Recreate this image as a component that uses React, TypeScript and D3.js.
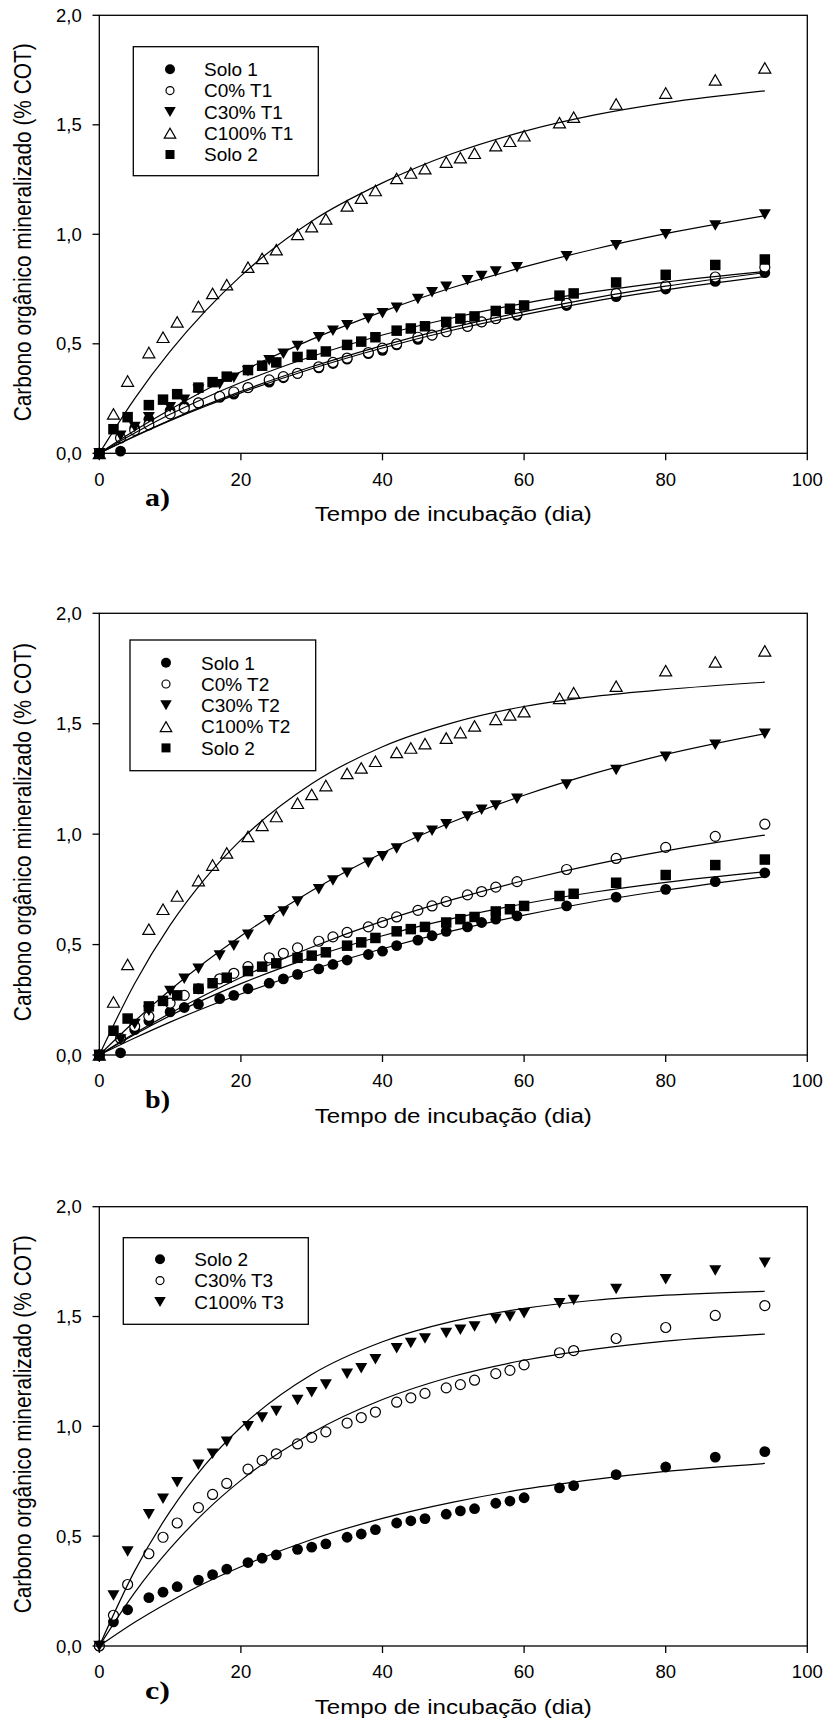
import React from 'react';
import * as d3 from 'd3';

// sampling days (two schedules used in the experiment)
const DAYS_A = [0, 2, 4, 7, 9, 11, 14, 16, 18, 21, 23, 25, 28, 30, 32, 35, 37, 39, 42, 44, 46, 49, 51, 53, 56, 58, 60, 65, 67, 73, 80, 87, 94];
const DAYS_B = [0, 3, 5, 7, 10, 12, 14, 17, 19, 21, 24, 26, 28, 31, 33, 35, 38, 40, 42, 45, 47, 49, 52, 54, 56, 59, 66, 73, 80, 87, 94];

// measured values (% COT)
const SOLO_1 = [0, 0.01, 0.115, 0.155, 0.195, 0.215, 0.23, 0.255, 0.27, 0.3, 0.325, 0.345, 0.365, 0.39, 0.41, 0.43, 0.455, 0.47, 0.495, 0.52, 0.54, 0.56, 0.58, 0.6, 0.615, 0.63, 0.675, 0.715, 0.75, 0.785, 0.825];
const SOLO_2 = [0, 0.11, 0.165, 0.22, 0.245, 0.27, 0.3, 0.325, 0.35, 0.38, 0.4, 0.415, 0.44, 0.45, 0.465, 0.495, 0.51, 0.53, 0.56, 0.57, 0.58, 0.6, 0.615, 0.625, 0.65, 0.66, 0.675, 0.72, 0.73, 0.78, 0.815, 0.86, 0.885];
const C0_T1 = [0, 0.07, 0.105, 0.13, 0.18, 0.205, 0.23, 0.26, 0.28, 0.3, 0.335, 0.35, 0.365, 0.395, 0.415, 0.435, 0.46, 0.48, 0.5, 0.53, 0.54, 0.555, 0.58, 0.6, 0.615, 0.635, 0.685, 0.73, 0.765, 0.805, 0.85];
const C30_T1 = [0, 0.08, 0.12, 0.165, 0.21, 0.245, 0.29, 0.315, 0.345, 0.375, 0.425, 0.455, 0.49, 0.53, 0.56, 0.585, 0.615, 0.64, 0.665, 0.705, 0.735, 0.76, 0.79, 0.81, 0.83, 0.85, 0.9, 0.95, 1.0, 1.04, 1.09];
const C100_T1 = [0, 0.18, 0.33, 0.46, 0.53, 0.6, 0.67, 0.73, 0.77, 0.85, 0.89, 0.93, 1.0, 1.035, 1.07, 1.13, 1.165, 1.2, 1.255, 1.28, 1.3, 1.33, 1.35, 1.37, 1.405, 1.425, 1.45, 1.51, 1.535, 1.595, 1.645, 1.705, 1.76];
const C0_T2 = [0, 0.075, 0.13, 0.175, 0.235, 0.27, 0.3, 0.345, 0.37, 0.4, 0.44, 0.46, 0.485, 0.515, 0.535, 0.555, 0.58, 0.6, 0.625, 0.655, 0.675, 0.695, 0.725, 0.74, 0.76, 0.785, 0.84, 0.89, 0.94, 0.99, 1.045];
const C30_T2 = [0, 0.07, 0.14, 0.2, 0.29, 0.345, 0.39, 0.45, 0.495, 0.545, 0.61, 0.65, 0.695, 0.75, 0.79, 0.825, 0.87, 0.9, 0.935, 0.985, 1.015, 1.045, 1.08, 1.11, 1.13, 1.16, 1.225, 1.29, 1.35, 1.405, 1.455];
const C100_T2 = [0, 0.24, 0.41, 0.57, 0.66, 0.72, 0.79, 0.86, 0.915, 0.99, 1.04, 1.08, 1.14, 1.18, 1.22, 1.275, 1.3, 1.33, 1.37, 1.39, 1.41, 1.435, 1.46, 1.49, 1.52, 1.54, 1.555, 1.615, 1.64, 1.67, 1.74, 1.78, 1.83];
const C30_T3 = [0, 0.14, 0.28, 0.42, 0.495, 0.56, 0.63, 0.69, 0.74, 0.805, 0.845, 0.875, 0.92, 0.95, 0.975, 1.015, 1.04, 1.065, 1.11, 1.13, 1.15, 1.175, 1.19, 1.21, 1.24, 1.255, 1.28, 1.335, 1.345, 1.4, 1.45, 1.505, 1.55];
const C100_T3 = [0, 0.23, 0.43, 0.6, 0.67, 0.745, 0.825, 0.875, 0.93, 1.0, 1.04, 1.07, 1.12, 1.155, 1.19, 1.24, 1.265, 1.305, 1.355, 1.38, 1.4, 1.425, 1.44, 1.455, 1.49, 1.5, 1.515, 1.56, 1.575, 1.625, 1.67, 1.71, 1.745];

// fitted curves
const FIT_DAYS = [0, 5, 10, 15, 20, 30, 40, 50, 60, 70, 80, 94];
const FIT_SOLO_1 = [0, 0.077, 0.149, 0.215, 0.276, 0.386, 0.481, 0.563, 0.633, 0.695, 0.746, 0.807];
const FIT_SOLO_2 = [0, 0.093, 0.178, 0.254, 0.323, 0.442, 0.54, 0.619, 0.685, 0.738, 0.782, 0.83];
const FIT_C0_T1 = [0, 0.079, 0.152, 0.22, 0.283, 0.395, 0.492, 0.576, 0.647, 0.71, 0.763, 0.825];
const FIT_C30_T1 = [0, 0.104, 0.2, 0.289, 0.372, 0.52, 0.647, 0.758, 0.851, 0.933, 1.003, 1.085];
const FIT_C100_T1 = [0, 0.25, 0.465, 0.65, 0.81, 1.06, 1.235, 1.37, 1.47, 1.545, 1.6, 1.655];
const FIT_C0_T2 = [0, 0.098, 0.189, 0.273, 0.351, 0.488, 0.606, 0.705, 0.79, 0.863, 0.924, 0.996];
const FIT_C30_T2 = [0, 0.153, 0.294, 0.422, 0.539, 0.744, 0.915, 1.057, 1.176, 1.276, 1.361, 1.455];
const FIT_C100_T2 = [0, 0.324, 0.588, 0.801, 0.974, 1.228, 1.396, 1.505, 1.578, 1.624, 1.655, 1.688];
const FIT_SOLO_2C = [0, 0.108, 0.203, 0.288, 0.361, 0.485, 0.581, 0.655, 0.714, 0.759, 0.795, 0.831];
const FIT_C30_T3 = [0, 0.243, 0.444, 0.613, 0.754, 0.97, 1.122, 1.228, 1.301, 1.352, 1.388, 1.42];
const FIT_C100_T3 = [0, 0.342, 0.613, 0.827, 0.996, 1.236, 1.385, 1.479, 1.537, 1.574, 1.597, 1.615];

const X_TICKS = [0, 20, 40, 60, 80, 100];
const Y_TICKS = [0, 0.5, 1, 1.5, 2];

type Kind = 'dot' | 'ring' | 'down' | 'up' | 'square';

interface Series {
  name: string;
  kind: Kind;
  days: number[];
  values: number[];
  fit: number[];
}

interface PanelDef {
  label: string;
  top: number;
  bottom: number;
  legend: { x: number; y: number; w: number; h: number; symX: number; textX: number; row0: number };
  series: Series[];
}

const PANELS: PanelDef[] = [
  {
    label: 'a)', top: 15.3, bottom: 453.3,
    legend: { x: 133.3, y: 46.7, w: 185, h: 129, symX: 170, textX: 204, row0: 69.3 },
    series: [
      { name: 'Solo 1', kind: 'dot', days: DAYS_B, values: SOLO_1, fit: FIT_SOLO_1 },
      { name: 'C0% T1', kind: 'ring', days: DAYS_B, values: C0_T1, fit: FIT_C0_T1 },
      { name: 'C30% T1', kind: 'down', days: DAYS_B, values: C30_T1, fit: FIT_C30_T1 },
      { name: 'C100% T1', kind: 'up', days: DAYS_A, values: C100_T1, fit: FIT_C100_T1 },
      { name: 'Solo 2', kind: 'square', days: DAYS_A, values: SOLO_2, fit: FIT_SOLO_2 },
    ],
  },
  {
    label: 'b)', top: 613.3, bottom: 1055,
    legend: { x: 130, y: 640, w: 185.7, h: 130.7, symX: 166, textX: 201, row0: 662.7 },
    series: [
      { name: 'Solo 1', kind: 'dot', days: DAYS_B, values: SOLO_1, fit: FIT_SOLO_1 },
      { name: 'C0% T2', kind: 'ring', days: DAYS_B, values: C0_T2, fit: FIT_C0_T2 },
      { name: 'C30% T2', kind: 'down', days: DAYS_B, values: C30_T2, fit: FIT_C30_T2 },
      { name: 'C100% T2', kind: 'up', days: DAYS_A, values: C100_T2, fit: FIT_C100_T2 },
      { name: 'Solo 2', kind: 'square', days: DAYS_A, values: SOLO_2, fit: FIT_SOLO_2 },
    ],
  },
  {
    label: 'c)', top: 1206.7, bottom: 1646,
    legend: { x: 123.3, y: 1237.7, w: 185, h: 86.6, symX: 160, textX: 194.3, row0: 1259.3 },
    series: [
      { name: 'Solo 2', kind: 'dot', days: DAYS_A, values: SOLO_2, fit: FIT_SOLO_2C },
      { name: 'C30% T3', kind: 'ring', days: DAYS_A, values: C30_T3, fit: FIT_C30_T3 },
      { name: 'C100% T3', kind: 'down', days: DAYS_A, values: C100_T3, fit: FIT_C100_T3 },
    ],
  },
];

const SANS = '"Liberation Sans", Arial, sans-serif';
const SERIF = '"Liberation Serif", "Times New Roman", serif';
const X_LEFT = 99.3;
const X_RIGHT = 807.3;
const ROW_STEP = 21.3;

const ptFormat = d3.formatLocale({ decimal: ',', thousands: '.', grouping: [3], currency: ['', ''] }).format('.1f');

const Marker = ({ kind, cx, cy, small }: { kind: Kind; cx: number; cy: number; small?: boolean }) => {
  if (kind === 'dot') return <circle cx={cx} cy={cy} r={small ? 5 : 5.4} fill="#000" />;
  if (kind === 'ring')
    return <circle cx={cx} cy={cy} r={small ? 4 : 5} fill="#fff" stroke="#000" strokeWidth={1.2} />;
  if (kind === 'square') {
    const s = small ? 9 : 10.5;
    return <rect x={cx - s / 2} y={cy - s / 2} width={s} height={s} fill="#000" />;
  }
  const w = small ? 11.5 : 12;
  const h = small ? 10 : 10.5;
  if (kind === 'down')
    return <path d={`M${cx - w / 2},${cy - h / 2}L${cx + w / 2},${cy - h / 2}L${cx},${cy + h / 2}Z`} fill="#000" />;
  return (
    <path
      d={`M${cx - w / 2},${cy + h / 2}L${cx + w / 2},${cy + h / 2}L${cx},${cy - h / 2}Z`}
      fill="#fff"
      stroke="#000"
      strokeWidth={1.2}
    />
  );
};

const Panel = ({ p }: { p: PanelDef }) => {
  const x = d3.scaleLinear().domain([0, 100]).range([X_LEFT, X_RIGHT]);
  const y = d3.scaleLinear().domain([0, 2]).range([p.bottom, p.top]);
  const line = d3
    .line<number>()
    .x((_, i) => x(FIT_DAYS[i]))
    .y((d) => y(d))
    .curve(d3.curveMonotoneX);
  const midY = (p.top + p.bottom) / 2;
  const lg = p.legend;

  return (
    <g>
      {/* markers first, fitted lines drawn over them */}
      {p.series.map((s) => (
        <g key={s.name}>
          {s.values.map((v, i) => (
            <Marker key={i} kind={s.kind} cx={x(s.days[i])} cy={y(v)} />
          ))}
        </g>
      ))}
      {p.series.map((s) => (
        <path key={s.name + '-fit'} d={line(s.fit) || ''} fill="none" stroke="#000" strokeWidth={1.2} />
      ))}

      <rect x={X_LEFT} y={p.top} width={X_RIGHT - X_LEFT} height={p.bottom - p.top} fill="none" stroke="#000" strokeWidth={1.3} />

      {Y_TICKS.map((t) => (
        <g key={'y' + t}>
          <line x1={X_LEFT - 6.8} x2={X_LEFT} y1={y(t)} y2={y(t)} stroke="#000" strokeWidth={1.3} />
          <text x={X_LEFT - 17.6} y={y(t) + 6.5} textAnchor="end" fontFamily={SANS} fontSize={18.5}>
            {ptFormat(t)}
          </text>
        </g>
      ))}
      {X_TICKS.map((t) => (
        <g key={'x' + t}>
          <line x1={x(t)} x2={x(t)} y1={p.bottom} y2={p.bottom + 7} stroke="#000" strokeWidth={1.3} />
          <text x={x(t)} y={p.bottom + 32.3} textAnchor="middle" fontFamily={SANS} fontSize={18.5}>
            {t}
          </text>
        </g>
      ))}

      <text x={(X_LEFT + X_RIGHT) / 2} y={p.bottom + 67.5} textAnchor="middle" fontFamily={SANS} fontSize={20}
        textLength={277} lengthAdjust="spacingAndGlyphs">
        Tempo de incubação (dia)
      </text>
      <text transform={`translate(31,${midY - 2}) rotate(-90)`} textAnchor="middle" fontFamily={SANS} fontSize={23}
        textLength={378} lengthAdjust="spacingAndGlyphs">
        Carbono orgânico mineralizado (% COT)
      </text>
      <text x={145} y={p.bottom + 52.5} fontFamily={SERIF} fontWeight="bold" fontSize={25}
        textLength={25} lengthAdjust="spacingAndGlyphs">
        {p.label}
      </text>

      <rect x={lg.x} y={lg.y} width={lg.w} height={lg.h} fill="#fff" stroke="#000" strokeWidth={1.3} />
      {p.series.map((s, i) => {
        const ry = lg.row0 + i * ROW_STEP;
        return (
          <g key={s.name + '-lg'}>
            <Marker kind={s.kind} cx={lg.symX} cy={ry} small />
            <text x={lg.textX} y={ry + 6.8} fontFamily={SANS} fontSize={19}>
              {s.name}
            </text>
          </g>
        );
      })}
    </g>
  );
};

export default function App() {
  return (
    <svg
      width={829}
      height={1724}
      style={{ position: 'absolute', left: 0, top: 0, display: 'block', background: '#fff' }}
    >
      <rect x={0} y={0} width={829} height={1724} fill="#fff" />
      {PANELS.map((p) => (
        <Panel key={p.label} p={p} />
      ))}
    </svg>
  );
}
